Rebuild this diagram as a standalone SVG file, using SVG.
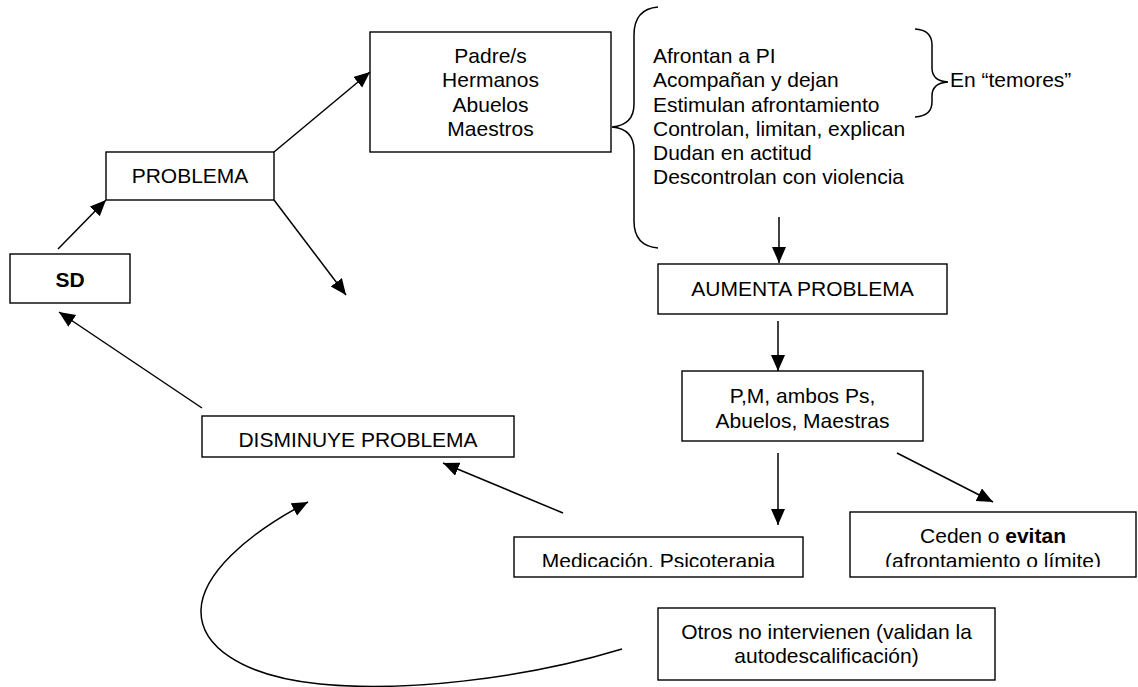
<svg xmlns="http://www.w3.org/2000/svg" width="1138" height="687" viewBox="0 0 1138 687">
<style>
.box{fill:#fff;stroke:#000;stroke-width:1.4}
.t{font-family:"Liberation Sans",Arial,Helvetica,sans-serif;font-size:21px;fill:#000}
.c{text-anchor:middle}
.ln{fill:none;stroke:#000;stroke-width:1.5}
.br{fill:none;stroke:#000;stroke-width:1.5}
</style>
<defs>
<marker id="ah" markerUnits="userSpaceOnUse" markerWidth="18" markerHeight="16" refX="16" refY="7" orient="auto">
<path d="M0,0 L16,7 L0,14 z" fill="#000"/>
</marker>
<clipPath id="clipMed"><rect x="514" y="537" width="289" height="30"/></clipPath>
<clipPath id="clipCed"><rect x="850" y="512" width="287" height="55"/></clipPath>
</defs>
<rect width="1138" height="687" fill="#fff"/>

<g id="sd">
<rect class="box" x="10" y="254" width="120" height="49"/>
<text class="t c" x="70" y="287" font-weight="bold" font-size="22">SD</text>
</g>
<g id="problema">
<rect class="box" x="106" y="152" width="168" height="48"/>
<text class="t c" x="190" y="183">PROBLEMA</text>
</g>
<g id="padres">
<rect class="box" x="370" y="32" width="241" height="120"/>
<text class="t c" x="490.5" y="63">Padre/s</text>
<text class="t c" x="490.5" y="87">Hermanos</text>
<text class="t c" x="490.5" y="112">Abuelos</text>
<text class="t c" x="490.5" y="136">Maestros</text>
</g>
<g id="lista">
<path class="br" d="M658,7 Q634,9 634,35 L634,104 Q634,125 612,127 Q634,129 634,150 L634,221 Q634,246 658,248"/>
<text class="t" x="653" y="63">Afrontan a PI</text>
<text class="t" x="653" y="87">Acompañan y dejan</text>
<text class="t" x="653" y="112">Estimulan afrontamiento</text>
<text class="t" x="653" y="136">Controlan, limitan, explican</text>
<text class="t" x="653" y="160">Dudan en actitud</text>
<text class="t" x="653" y="184">Descontrolan con violencia</text>
</g>
<g id="temores">
<path class="br" d="M915,29 Q932,30 932,45 L932,68 Q932,81 948,82 Q932,83 932,96 L932,102 Q932,116 915,117"/>
<text class="t" x="950" y="87">En “temores”</text>
</g>
<g id="aumenta">
<rect class="box" x="658" y="264" width="289" height="50"/>
<text class="t c" x="802.5" y="296">AUMENTA PROBLEMA</text>
</g>
<g id="pm">
<rect class="box" x="682" y="371" width="241" height="70"/>
<text class="t c" x="802.5" y="403">P,M, ambos Ps,</text>
<text class="t c" x="802.5" y="428">Abuelos, Maestras</text>
</g>
<g id="disminuye">
<rect class="box" x="202" y="416" width="312" height="41"/>
<text class="t c" x="358" y="447">DISMINUYE PROBLEMA</text>
</g>
<g id="medicacion">
<rect class="box" x="514" y="537" width="289" height="40"/>
<text class="t c" x="658.5" y="568" clip-path="url(#clipMed)">Medicación. Psicoterapia</text>
</g>
<g id="ceden">
<rect class="box" x="850" y="512" width="286" height="65"/>
<g clip-path="url(#clipCed)">
<text class="t c" x="993" y="543">Ceden o <tspan font-weight="bold">evitan</tspan></text>
<text class="t c" x="993" y="568">(afrontamiento o límite)</text>
</g>
</g>
<g id="otros">
<rect class="box" x="658" y="608" width="337" height="72"/>
<text class="t c" x="826.5" y="639">Otros no intervienen (validan la</text>
<text class="t c" x="826.5" y="663">autodescalificación)</text>
</g>

<g id="connectors">
<line class="ln" x1="58" y1="249" x2="106" y2="200" marker-end="url(#ah)"/>
<line class="ln" x1="274" y1="152" x2="370" y2="72" marker-end="url(#ah)"/>
<line class="ln" x1="274" y1="200" x2="346" y2="295" marker-end="url(#ah)"/>
<line class="ln" x1="779" y1="217" x2="779" y2="263" marker-end="url(#ah)"/>
<line class="ln" x1="778" y1="321" x2="778" y2="371" marker-end="url(#ah)"/>
<line class="ln" x1="778" y1="453" x2="778" y2="525" marker-end="url(#ah)"/>
<line class="ln" x1="897" y1="453" x2="993" y2="502" marker-end="url(#ah)"/>
<line class="ln" x1="563" y1="513" x2="443" y2="463" marker-end="url(#ah)"/>
<line class="ln" x1="202" y1="408" x2="59" y2="312" marker-end="url(#ah)"/>
<path class="ln" d="M622,649 C520,680 400,692 320,684 C240,676 200,645 201,610 C202,575 245,535 308,502" marker-end="url(#ah)"/>
</g>
</svg>
